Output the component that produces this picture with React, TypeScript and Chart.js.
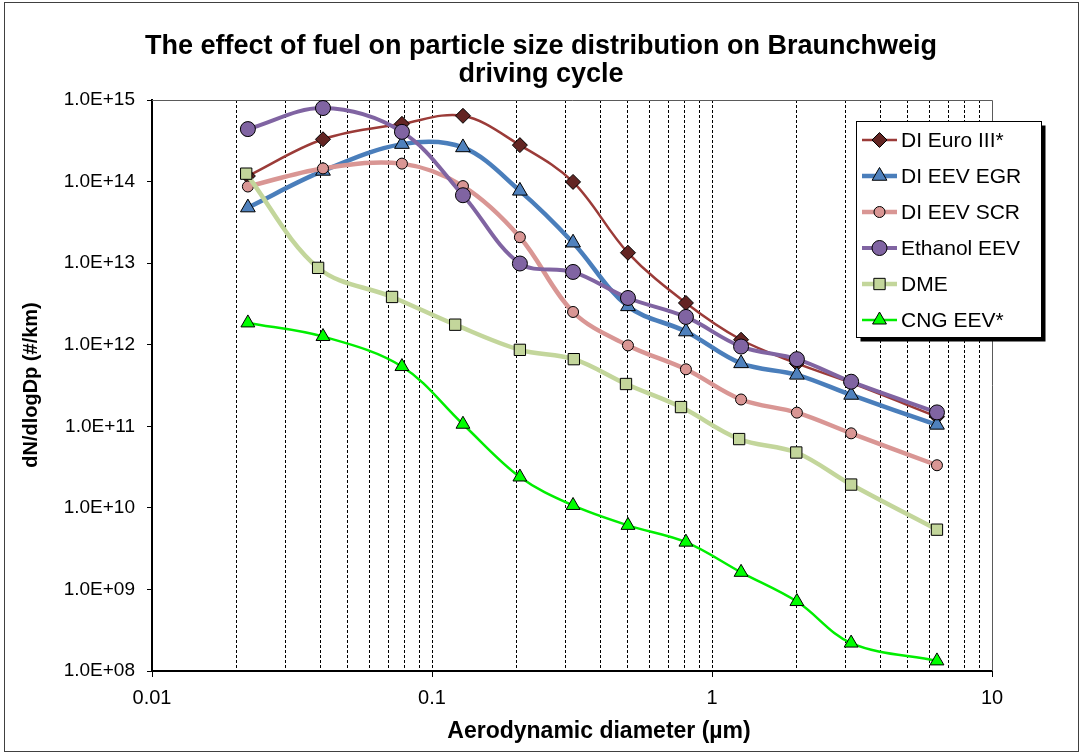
import React, { useEffect, useRef } from 'react';
import { Chart, registerables } from 'chart.js';

Chart.register(...registerables);

// ---------------- data ----------------
const chartTitleLines = ['The effect of fuel on particle size distribution on Braunchweig', 'driving cycle'];
const xAxisTitle = 'Aerodynamic diameter (\u00b5m)';
const yAxisTitle = 'dN/dlogDp (#/km)';

const seriesNames = ['DI Euro III*', 'DI EEV EGR', 'DI EEV SCR', 'Ethanol EEV', 'DME', 'CNG EEV*'];

const diameters = [0.022, 0.0408, 0.0781, 0.129, 0.206, 0.319, 0.501, 0.807, 1.27, 2.01, 3.14, 6.36];
const dmeDiameters = [0.0217, 0.0392, 0.072, 0.121, 0.206, 0.321, 0.493, 0.775, 1.25, 2.0, 3.14, 6.36];

const euroIII = [1.17e14, 3.3e14, 5.1e14, 6.4e14, 2.8e14, 9.9e13, 1.34e13, 3.25e12, 1.15e12, 5.9e11, 3.4e11, 1.31e11];
const eevEGR = [4.8e13, 1.35e14, 2.88e14, 2.62e14, 7.7e13, 1.78e13, 2.95e12, 1.45e12, 5.9e11, 4.27e11, 2.42e11, 1.04e11];
const eevSCR = [8.7e13, 1.45e14, 1.66e14, 8.8e13, 2.08e13, 2.52e12, 9.8e11, 5.0e11, 2.13e11, 1.47e11, 8.2e10, 3.33e10];
const ethanolEEV = [4.4e14, 7.97e14, 4.07e14, 6.8e13, 9.9e12, 7.8e12, 3.74e12, 2.19e12, 9.5e11, 6.65e11, 3.52e11, 1.48e11];
const dme = [1.25e14, 8.75e12, 3.85e12, 1.76e12, 8.65e11, 6.65e11, 3.3e11, 1.72e11, 6.97e10, 4.77e10, 1.93e10, 5.4e9];
const cngEEV = [1.85e12, 1.26e12, 5.4e11, 1.06e11, 2.39e10, 1.07e10, 6.1e9, 3.8e9, 1.62e9, 7.1e8, 2.2e8, 1.33e8];

const seriesX = [diameters, diameters, diameters, diameters, dmeDiameters, diameters];
const seriesY = [euroIII, eevEGR, eevSCR, ethanolEEV, dme, cngEEV];

const yTickValues = [1e8, 1e9, 1e10, 1e11, 1e12, 1e13, 1e14, 1e15];
const xMajorTicks = [0.01, 0.1, 1, 10];

// ---------------- styles ----------------
const FONT = "'Liberation Sans', Arial, Helvetica, sans-serif";
type Shape = 'rectRot' | 'triangle' | 'circle' | 'rect';
const seriesStyles: { line: string; width: number; fill: string; shape: Shape; radius: number }[] = [
  { line: '#9B3B38', width: 2.5, fill: '#632523', shape: 'rectRot', radius: 7.5 },
  { line: '#4A7EBB', width: 4.5, fill: '#4F81BD', shape: 'triangle', radius: 8.5 },
  { line: '#D99694', width: 4.5, fill: '#D99694', shape: 'circle', radius: 5.5 },
  { line: '#8064A2', width: 4, fill: '#8064A2', shape: 'circle', radius: 7.5 },
  { line: '#C3D69B', width: 4.5, fill: '#C3D69B', shape: 'rect', radius: 8 },
  { line: '#00EE00', width: 2.5, fill: '#00FF00', shape: 'triangle', radius: 8 },
];

// ---------------- helpers ----------------
const isDecade = (v: number) => {
  const e = Math.round(Math.log10(v));
  return Math.abs(v / Math.pow(10, e) - 1) < 1e-6;
};
const xTickValues: number[] = [];
for (let i = 0; i < xMajorTicks.length - 1; i++) {
  for (let k = 1; k <= 9; k++) xTickValues.push(Number((k * xMajorTicks[i]).toPrecision(3)));
}
xTickValues.push(xMajorTicks[xMajorTicks.length - 1]);

const fmtX = (v: number) => {
  const e = Math.round(Math.log10(v));
  return e < 0 ? Math.pow(10, e).toFixed(-e) : String(Math.round(Math.pow(10, e)));
};
const fmtY = (v: number) => {
  const e = Math.round(Math.log10(v));
  const m = v / Math.pow(10, e);
  return m.toFixed(1) + 'E' + (e >= 0 ? '+' : '-') + String(Math.abs(e)).padStart(2, '0');
};

function drawMarker(ctx: CanvasRenderingContext2D, shape: Shape, x: number, y: number, r: number) {
  ctx.beginPath();
  if (shape === 'circle') {
    ctx.arc(x, y, r, 0, Math.PI * 2);
  } else if (shape === 'rect') {
    const s = r * Math.SQRT1_2;
    ctx.rect(x - s, y - s, 2 * s, 2 * s);
  } else if (shape === 'rectRot') {
    ctx.moveTo(x, y - r);
    ctx.lineTo(x + r, y);
    ctx.lineTo(x, y + r);
    ctx.lineTo(x - r, y);
    ctx.closePath();
  } else {
    for (let i = 0; i < 3; i++) {
      const a = (i * 2 * Math.PI) / 3;
      const px = x + Math.sin(a) * r;
      const py = y - Math.cos(a) * r;
      if (i === 0) ctx.moveTo(px, py);
      else ctx.lineTo(px, py);
    }
    ctx.closePath();
  }
  ctx.fill();
  ctx.stroke();
}

const decorPlugin = {
  id: 'decor',
  beforeDatasetsDraw(chart: any) {
    const { ctx, chartArea } = chart;
    ctx.save();
    // outer chart frame
    ctx.strokeStyle = '#404040';
    ctx.lineWidth = 1;
    ctx.strokeRect(4.5, 2.5, 1074, 749);
    // plot-area top and right border
    ctx.strokeStyle = '#5a5a5a';
    ctx.beginPath();
    ctx.moveTo(chartArea.left, chartArea.top + 0.5);
    ctx.lineTo(chartArea.right + 0.5, chartArea.top + 0.5);
    ctx.lineTo(chartArea.right + 0.5, chartArea.bottom);
    ctx.stroke();
    ctx.restore();
  },
  afterDraw(chart: any) {
    const { ctx } = chart;
    ctx.save();
    // chart title
    ctx.fillStyle = '#000';
    ctx.textAlign = 'center';
    ctx.textBaseline = 'alphabetic';
    ctx.font = `bold 27px ${FONT}`;
    ctx.fillText(chartTitleLines[0], 541, 54);
    ctx.fillText(chartTitleLines[1], 541, 82);
    // axis titles
    ctx.font = `bold 23px ${FONT}`;
    ctx.fillText(xAxisTitle, 599, 738);
    ctx.save();
    ctx.translate(37, 385);
    ctx.rotate(-Math.PI / 2);
    ctx.font = `bold 20px ${FONT}`;
    ctx.fillText(yAxisTitle, 0, 0);
    ctx.restore();

    // legend
    const lx = 856.5, ly = 121.5, lw = 185, lh = 216;
    ctx.fillStyle = '#000';
    ctx.fillRect(lx + 4, ly + 4, lw, lh);
    ctx.fillStyle = '#fff';
    ctx.fillRect(lx, ly, lw, lh);
    ctx.strokeStyle = '#000';
    ctx.lineWidth = 1;
    ctx.strokeRect(lx, ly, lw, lh);
    ctx.textAlign = 'left';
    ctx.textBaseline = 'middle';
    ctx.font = `21px ${FONT}`;
    seriesNames.forEach((name, i) => {
      const st = seriesStyles[i];
      const y = 140 + i * 36;
      ctx.strokeStyle = st.line;
      ctx.lineWidth = st.width;
      ctx.beginPath();
      ctx.moveTo(862, y);
      ctx.lineTo(897, y);
      ctx.stroke();
      ctx.fillStyle = st.fill;
      ctx.strokeStyle = '#000';
      ctx.lineWidth = 1;
      drawMarker(ctx, st.shape, 879.5, y, st.radius);
      ctx.fillStyle = '#000';
      ctx.fillText(name, 901, y + 1);
    });
    ctx.restore();
  },
};

export default function App() {
  const canvasRef = useRef<HTMLCanvasElement>(null);

  useEffect(() => {
    const canvas = canvasRef.current;
    if (!canvas) return;
    Chart.defaults.font.family = FONT;
    const datasets = seriesNames.map((name, i) => {
      const st = seriesStyles[i];
      return {
        label: name,
        data: seriesX[i].map((x, j) => ({ x, y: seriesY[i][j] })),
        borderColor: st.line,
        borderWidth: st.width,
        backgroundColor: st.fill,
        pointBackgroundColor: st.fill,
        pointBorderColor: '#000',
        pointBorderWidth: 1,
        pointStyle: st.shape,
        pointRadius: st.radius,
        pointHoverRadius: st.radius,
        tension: 0.35,
        fill: false,
        order: -i,
        clip: 8,
      };
    });

    const chart = new Chart(canvas, {
      type: 'line',
      data: { datasets } as any,
      plugins: [decorPlugin],
      options: {
        responsive: false,
        animation: false,
        devicePixelRatio: 1,
        events: [],
        layout: { padding: { top: 100, right: 90, left: 0, bottom: 0 } },
        plugins: {
          legend: { display: false },
          title: { display: false },
          tooltip: { enabled: false },
        },
        scales: {
          x: {
            type: 'logarithmic',
            position: 'bottom',
            min: 0.01,
            max: 10,
            afterBuildTicks: (scale: any) => {
              scale.ticks = xTickValues.map((value) => ({ value, major: isDecade(value) }));
            },
            afterFit: (scale: any) => {
              scale.height = 84;
              scale.paddingLeft = 0;
              scale.paddingRight = 0;
            },
            ticks: {
              autoSkip: false,
              maxRotation: 0,
              minRotation: 0,
              padding: 9,
              color: '#000',
              font: { size: 20, family: FONT },
              callback: (v: any) => (isDecade(Number(v)) ? fmtX(Number(v)) : ''),
            },
            grid: {
              display: true,
              drawOnChartArea: true,
              drawTicks: true,
              tickLength: 6,
              lineWidth: 1,
              color: (ctx: any) => {
                const v = ctx.tick ? ctx.tick.value : null;
                if (v == null) return 'rgba(0,0,0,0)';
                if (Math.abs(v - 0.01) < 1e-9 || Math.abs(v - 10) < 1e-9) return 'rgba(0,0,0,0)';
                return '#000';
              },
              tickColor: (ctx: any) => (ctx.tick && isDecade(ctx.tick.value) ? '#000' : 'rgba(0,0,0,0)'),
              tickWidth: 1,
            },
            border: { display: true, color: '#000', width: 2, dash: [3, 2] },
          },
          y: {
            type: 'logarithmic',
            position: 'left',
            min: 1e8,
            max: 1e15,
            afterBuildTicks: (scale: any) => {
              scale.ticks = yTickValues.map((value) => ({ value, major: true }));
            },
            afterFit: (scale: any) => {
              scale.width = 152;
              scale.paddingTop = 0;
              scale.paddingBottom = 0;
            },
            ticks: {
              autoSkip: false,
              padding: 12,
              color: '#000',
              font: { size: 19, family: FONT },
              callback: (v: any) => fmtY(Number(v)),
            },
            grid: {
              display: true,
              drawOnChartArea: false,
              drawTicks: true,
              tickLength: 5,
              color: '#000',
              lineWidth: 1,
            },
            border: { display: true, color: '#000', width: 2 },
          },
        },
      } as any,
    });

    return () => chart.destroy();
  }, []);

  return (
    <div style={{ position: 'fixed', left: 0, top: 0, width: 1082, height: 755, background: '#fff' }}>
      <canvas ref={canvasRef} width={1082} height={755} style={{ display: 'block', width: 1082, height: 755 }} />
    </div>
  );
}
